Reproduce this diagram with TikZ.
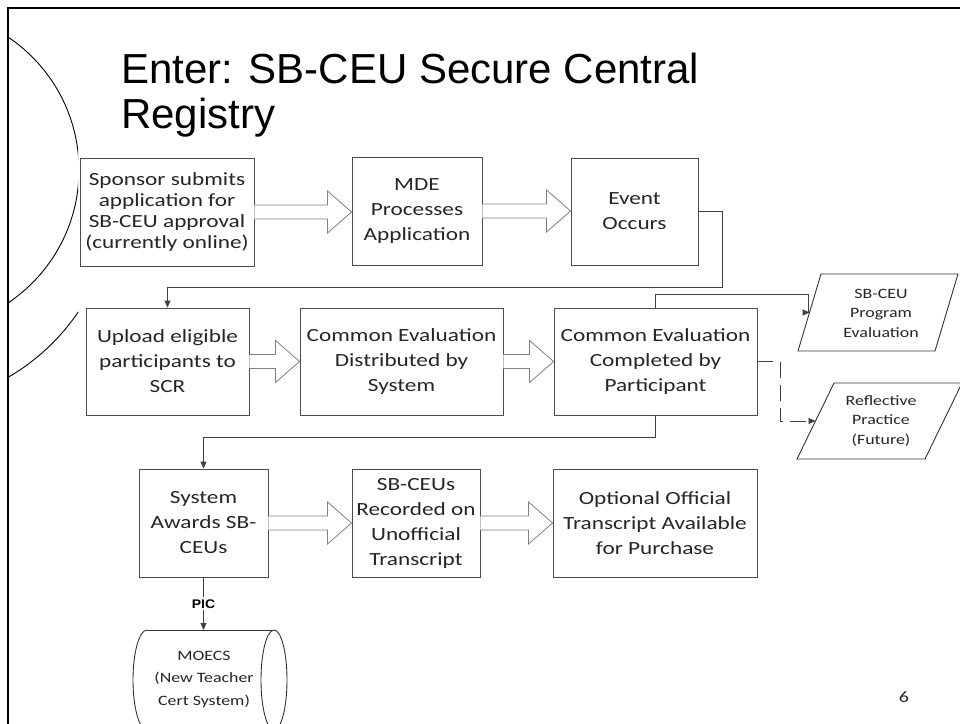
\documentclass[tikz,border=0pt]{standalone}
\usepackage{fontspec}
\usetikzlibrary{calc,arrows.meta}
\newfontfamily\boxfont{Carlito}[FakeStretch=1.25]
\newfontfamily\titlefont{Liberation Sans}
\newfontfamily\picfont{Liberation Sans}[FakeStretch=1.12]
\tikzset{
  box/.style={draw=black!70, line width=0.9pt, fill=white, align=center, inner sep=2pt,
    text=black!85, font=\boxfont\fontsize{18.6}{25}\selectfont},
  blk/.style={draw=black!50, line width=0.8pt, fill=white, line join=miter},
  conn/.style={draw=black!75, line width=0.9pt, -{Triangle[length=7pt,width=6pt]}},
  para/.style={draw=black!80, line width=0.9pt, fill=white},
  smalltext/.style={align=center, text=black!85, inner sep=1pt,
    font=\boxfont\fontsize{14.3}{19.5}\selectfont},
  piclab/.style={fill=white, inner sep=2pt, font=\picfont\bfseries\fontsize{12.5}{13}\selectfont},
  titletext/.style={anchor=base west, inner sep=0pt, font=\titlefont\fontsize{42}{45}\selectfont}
}
\newcommand\blkarrow[2]{%
  \draw[blk] let \p1=(#1.east), \p2=(#2.west) in
    (\x1,\y1+7pt) -- (\x2-24pt,\y1+7pt) -- (\x2-24pt,\y1+21pt) -- (\x2,\y1)
    -- (\x2-24pt,\y1-21pt) -- (\x2-24pt,\y1-7pt) -- (\x1,\y1-7pt);}
\begin{document}
\begin{tikzpicture}[x=1pt,y=-1pt]
\useasboundingbox (0,0) rectangle (960,723);
\clip (0,0) rectangle (960,723);
\fill[white] (0,0) rectangle (960,723);

% decorative circles
\begin{scope}
  \clip (8,8) rectangle (78,400);
  \draw[line width=0.9pt] (-81,170) circle[radius=160];
\end{scope}
\begin{scope}
  \clip (8,250) rectangle (78,400);
  \draw[line width=0.9pt] (-99,192) circle[radius=214];
\end{scope}

% title
\node[titletext] (t1) at (121,83) {Enter: SB-CEU Secure Central};
\node[titletext] (t2) at (121,128) {Registry};

% row 1
\node[box, minimum width=174pt, minimum height=108pt, font=\boxfont\fontsize{18.6}{21.3}\selectfont] (b1) at (167,212)
  {Sponsor submits\\application for\\SB-CEU approval\\(currently online)};
\node[box, minimum width=130pt, minimum height=108pt] (b2) at (417,211) {MDE\\Processes\\Application};
\node[box, minimum width=127pt, minimum height=107pt] (b3) at (634.5,211.5) {Event\\Occurs};

% row 2
\node[box, minimum width=163pt, minimum height=107pt] (b4) at (167.5,361.5) {Upload eligible\\participants to\\SCR};
\node[box, minimum width=203pt, minimum height=107pt] (b5) at (401.5,361.5) {Common Evaluation\\Distributed by\\System};
\node[box, minimum width=203pt, minimum height=107pt] (b6) at (655.5,361.5) {Common Evaluation\\Completed by\\Participant};

% row 3
\node[box, minimum width=129pt, minimum height=108pt] (b7) at (203.5,523) {System\\Awards SB-\\CEUs};
\node[box, minimum width=128pt, minimum height=108pt] (b8) at (416,523) {SB-CEUs\\Recorded on\\Unofficial\\Transcript};
\node[box, minimum width=204pt, minimum height=108pt] (b9) at (655,523) {Optional Official\\Transcript Available\\for Purchase};

% block arrows
\blkarrow{b1}{b2}
\blkarrow{b2}{b3}
\blkarrow{b4}{b5}
\blkarrow{b5}{b6}
\blkarrow{b7}{b8}
\blkarrow{b8}{b9}

% parallelograms
\draw[para] (821,274) -- (958,274) -- (935,351) -- (798,351) -- cycle;
\node[smalltext] (p1) at (881,313) {SB-CEU\\Program\\Evaluation};
\coordinate (p1w) at (809.5,312.5);
\draw[para] (834,383) -- (962,383) -- (925,459) -- (797,459) -- cycle;
\node[smalltext] (p2) at (881,421) {Reflective\\Practice\\(Future)};
\coordinate (p2w) at (815.5,421);

% cylinder
\draw[para] (147,630) -- (274,630);
\draw[para] (274,680) ellipse[x radius=13, y radius=50];
\begin{scope}
  \clip (100,620) rectangle (147,740);
  \draw[para] (147,680) ellipse[x radius=14, y radius=50];
\end{scope}
\draw[para] (147,730) -- (274,730);
\node[smalltext, font=\boxfont\fontsize{14.3}{22.5}\selectfont] (cyl) at (204,679) {MOECS\\(New Teacher\\Cert System)};
\coordinate (cyltop) at (203.5,630);

% connectors
\coordinate (k1) at (722,287);
\draw[conn] (b3.east) -| (k1) -| (b4.north);
\coordinate (k2) at (808,294);
\draw[conn] (b6.north) |- (k2) |- (p1w);
\coordinate (k3) at (780,421);
\draw[conn, dash pattern=on 16pt off 7pt] (b6.east) -| (k3) -- (p2w);
\coordinate (k4) at (203.5,437);
\draw[conn] (b6.south) |- (k4) -- (b7.north);
\draw[conn] (b7.south) -- node[piclab] {PIC} (cyltop);

% page number
\node[font=\boxfont\fontsize{16}{16}\selectfont, text=black!85] (pg) at (904,697) {6};

% frame
\draw[line width=2.6pt] (8,730) -- (8,8) -- (962,8);
\end{tikzpicture}
\end{document}
